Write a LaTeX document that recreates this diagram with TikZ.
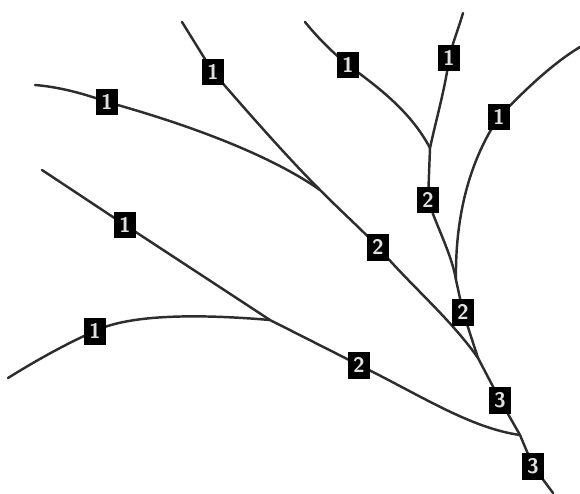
\documentclass[tikz,border=0pt]{standalone}
\usepackage{tikz}
\usetikzlibrary{positioning, calc}
\definecolor{streamgray}{RGB}{45, 45, 45}

\begin{document}
\begin{tikzpicture}[x=0.02cm, y=-0.02cm,
  river/.style={draw=streamgray, line width=1.4pt, line cap=round},
  order/.style={fill=black, text=white!88!black, font=\sffamily\bfseries\large,
        minimum width=0.45cm, minimum height=0.54cm, inner sep=0pt}]
  \useasboundingbox (0,0) rectangle (580,493);

  % junctions and stream ends
  \coordinate (jAB) at (320,190);
  \coordinate (jCD) at (430,148);
  \coordinate (jDE) at (456,280);
  \coordinate (jmain) at (478,358);
  \coordinate (jFG) at (270,320);
  \coordinate (jlast) at (520,435);
  \coordinate (eA) at (35,85);
  \coordinate (eB) at (182,22);
  \coordinate (eC) at (305,22);
  \coordinate (eD) at (463,13);
  \coordinate (eE) at (580,47);
  \coordinate (eF) at (42,170);
  \coordinate (eG) at (8,378);
  \coordinate (eOut) at (553,493);

  % label positions
  \path (107,102) coordinate (pa1) (213,72) coordinate (pb1)
        (348,65) coordinate (pc1) (449,58) coordinate (pd1)
        (499,117) coordinate (pe1) (125,225) coordinate (pf1)
        (95,331) coordinate (pg1) (378,247) coordinate (pab2)
        (428,200) coordinate (pcd2) (463,312) coordinate (pde2)
        (359,365) coordinate (pfg2) (500,400) coordinate (pm3)
        (533,466) coordinate (pl3);

  % streams
  \draw[river] (eA) .. controls (60,87) and (85,94) .. (pa1)
    .. controls (190,125) and (270,155) .. (jAB)
    .. controls (345,215) and (360,228) .. (pab2)
    .. controls (410,285) and (450,318) .. (jmain);
  \draw[river] (eB) -- (pb1) .. controls (250,115) and (290,160) .. (jAB);
  \draw[river] (eC) .. controls (318,38) and (332,52) .. (pc1)
    .. controls (375,85) and (410,110) .. (jCD);
  \draw[river] (eD) .. controls (458,30) and (452,45) .. (pd1)
    .. controls (446,85) and (436,120) .. (jCD);
  \draw[river] (jCD) -- (pcd2) .. controls (436,225) and (452,255) .. (jDE);
  \draw[river] (eE) .. controls (550,65) and (520,95) .. (pe1)
    .. controls (470,160) and (455,215) .. (jDE);
  \draw[river] (jDE) -- (pde2) -- (jmain) -- (pm3) -- (jlast) -- (pl3) -- (eOut);
  \draw[river] (eF) -- (pf1) -- (jFG) -- (pfg2)
    .. controls (420,395) and (470,428) .. (jlast);
  \draw[river] (eG) .. controls (40,358) and (70,342) .. (pg1)
    .. controls (130,314) and (200,314) .. (jFG);

  % stream orders
  \node[order] (a1) at (pa1) {1};
  \node[order] (b1) at (pb1) {1};
  \node[order] (c1) at (pc1) {1};
  \node[order] (d1) at (pd1) {1};
  \node[order] (e1) at (pe1) {1};
  \node[order] (f1) at (pf1) {1};
  \node[order] (g1) at (pg1) {1};
  \node[order] (ab2) at (pab2) {2};
  \node[order] (cd2) at (pcd2) {2};
  \node[order] (de2) at (pde2) {2};
  \node[order] (fg2) at (pfg2) {2};
  \node[order] (m3) at (pm3) {3};
  \node[order] (l3) at (pl3) {3};
\end{tikzpicture}
\end{document}
